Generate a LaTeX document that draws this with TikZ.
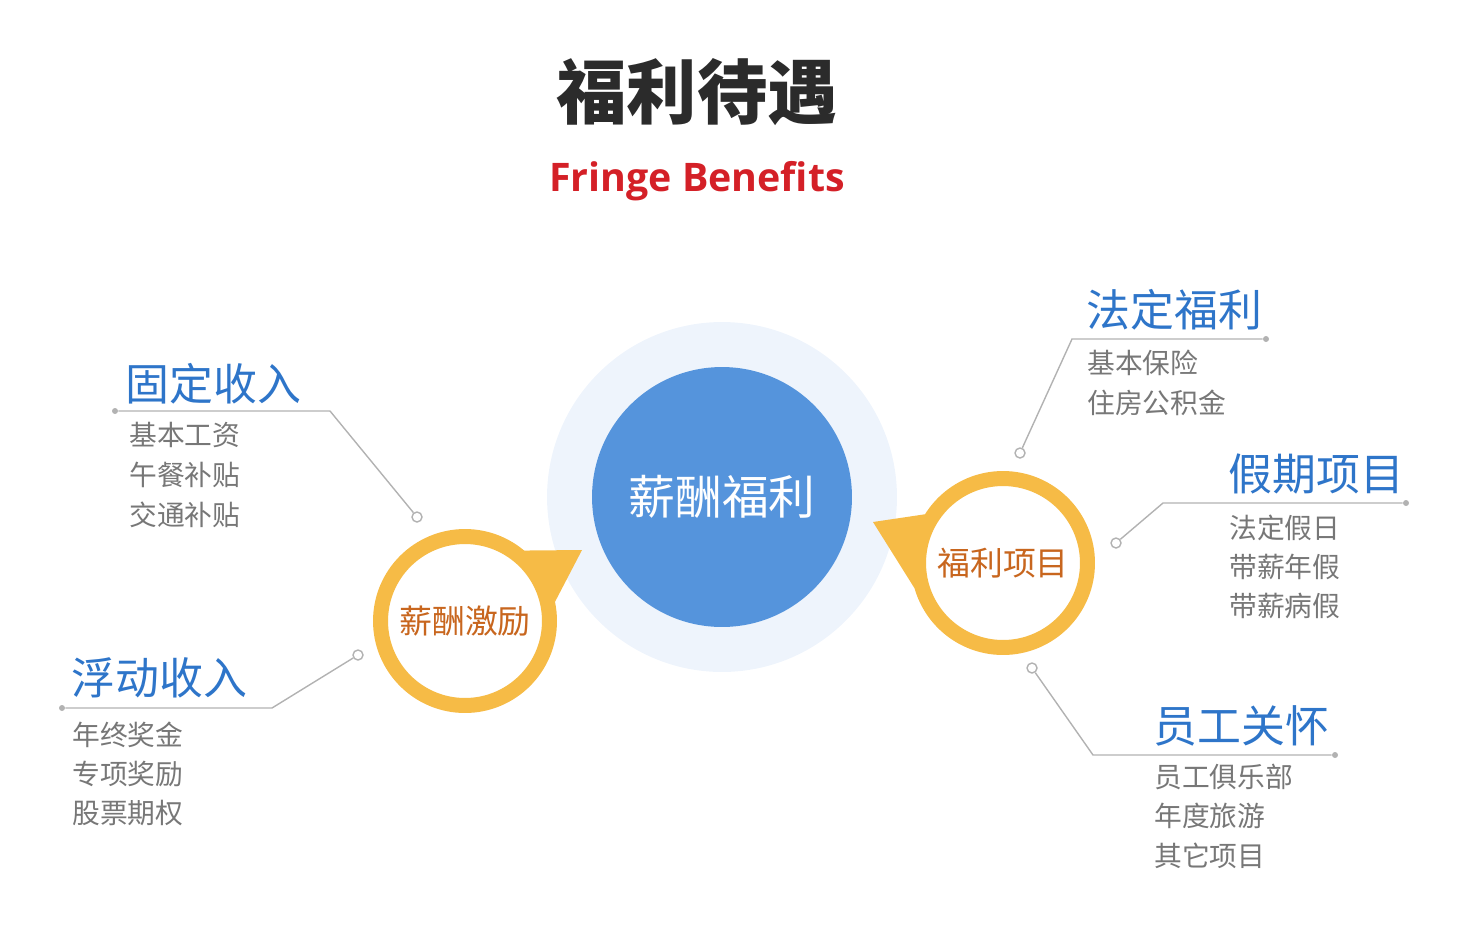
\documentclass[tikz,border=0pt]{standalone}
\usepackage{fontspec}
\setmainfont{Open Sans}
\newfontfamily\cjk{Noto Sans CJK SC}

\definecolor{titlegray}{HTML}{2B2B2B}
\definecolor{titlered}{HTML}{D42027}
\definecolor{haloblue}{HTML}{EEF4FC}
\definecolor{coreblue}{HTML}{5594DC}
\definecolor{ringorange}{HTML}{F6BB46}
\definecolor{ringtext}{HTML}{C8661E}
\definecolor{headblue}{HTML}{2E75C9}
\definecolor{itemgray}{HTML}{777777}
\definecolor{linegray}{HTML}{B2B2B2}

\tikzset{
  headtext/.style={font=\cjk\fontsize{25}{29}\selectfont, text=headblue,
    anchor=base west, inner sep=0pt},
  itemtext/.style={font=\cjk\fontsize{15.8}{18}\selectfont, text=itemgray,
    anchor=base west, inner sep=0pt},
  link/.style={draw=linegray, line width=0.8pt},
  opendot/.style={circle, draw=linegray, fill=white, line width=0.8pt,
    inner sep=0pt, minimum size=0.2cm},
  enddot/.style={circle, fill=linegray, inner sep=0pt, minimum size=0.12cm},
  ring/.style={circle, draw=ringorange, fill=white, line width=0.3cm,
    inner sep=0pt, minimum size=3.38cm,
    font=\cjk\fontsize{18.7}{22}\selectfont, text=ringtext},
}

\begin{document}
\begin{tikzpicture}[x=0.02cm, y=-0.02cm]
  \useasboundingbox (0,0) rectangle (1460,951);

  % title
  \node[font=\cjk\bfseries\fontsize{40}{46}\selectfont, text=titlegray,
    anchor=base, inner sep=0pt] (title) at (697,118) {福利待遇};
  \node[font=\bfseries\fontsize{22.4}{26}\selectfont, text=titlered,
    anchor=base, inner sep=0pt] (subtitle) at (697,191) {Fringe Benefits};

  % centre circle with pale halo
  \node[circle, fill=haloblue, inner sep=0pt, minimum size=7cm] (halo) at (722,497) {};
  \node[circle, fill=coreblue, inner sep=0pt, minimum size=5.2cm,
    font=\cjk\fontsize{26.6}{30}\selectfont, text=white] (core) at (722,497) {薪酬福利};

  % the two rings and their pointers
  \node[ring] (lring) at (465,621) {薪酬激励};
  \node[ring] (rring) at (1003,563) {福利项目};
  \coordinate (ltip) at (582,550);
  \coordinate (rtip) at (873,522);
  \fill[ringorange] (lring.50) -- (ltip) -- (lring.12) -- cycle;
  \fill[ringorange] (rring.148) -- (rtip) -- (rring.196) -- cycle;

  % connector: fixed income
  \node[enddot] (fixdot) at (115,411) {};
  \coordinate (fixbend) at (330,411);
  \node[opendot] (fixend) at (417,517) {};
  \draw[link] (fixdot) -- (fixbend) -- (fixend);

  % connector: variable income
  \node[enddot] (varydot) at (62,708) {};
  \coordinate (varybend) at (272,708);
  \node[opendot] (varyend) at (358,655) {};
  \draw[link] (varydot) -- (varybend) -- (varyend);

  % connector: statutory benefits
  \node[opendot] (lawend) at (1020,453) {};
  \coordinate (lawbend) at (1072,339);
  \node[enddot] (lawdot) at (1266,339) {};
  \draw[link] (lawend) -- (lawbend) -- (lawdot);

  % connector: holidays
  \node[opendot] (leaveend) at (1116,543) {};
  \coordinate (leavebend) at (1163,503);
  \node[enddot] (leavedot) at (1406,503) {};
  \draw[link] (leaveend) -- (leavebend) -- (leavedot);

  % connector: staff care
  \node[opendot] (careend) at (1032,668) {};
  \coordinate (carebend) at (1093,755);
  \node[enddot] (caredot) at (1335,755) {};
  \draw[link] (careend) -- (carebend) -- (caredot);

  % fixed income texts
  \node[headtext] (fixhead) at (125,400) {固定收入};
  \node[itemtext] (fixa) at (129,445) {基本工资};
  \node[itemtext] (fixb) at (129,485) {午餐补贴};
  \node[itemtext] (fixc) at (129,525) {交通补贴};

  % variable income texts
  \node[headtext] (varyhead) at (71,694) {浮动收入};
  \node[itemtext] (varya) at (72,745) {年终奖金};
  \node[itemtext] (varyb) at (72,784) {专项奖励};
  \node[itemtext] (varyc) at (72,823) {股票期权};

  % statutory benefit texts
  \node[headtext] (lawhead) at (1086,326) {法定福利};
  \node[itemtext] (lawa) at (1087,373) {基本保险};
  \node[itemtext] (lawb) at (1087,413) {住房公积金};

  % holiday texts
  \node[headtext] (leavehead) at (1228,490) {假期项目};
  \node[itemtext] (leavea) at (1229,538) {法定假日};
  \node[itemtext] (leaveb) at (1229,577) {带薪年假};
  \node[itemtext] (leavec) at (1229,616) {带薪病假};

  % staff care texts
  \node[headtext] (carehead) at (1153,742) {员工关怀};
  \node[itemtext] (carea) at (1154,787) {员工俱乐部};
  \node[itemtext] (careb) at (1154,826) {年度旅游};
  \node[itemtext] (carec) at (1154,866) {其它项目};

\end{tikzpicture}
\end{document}
